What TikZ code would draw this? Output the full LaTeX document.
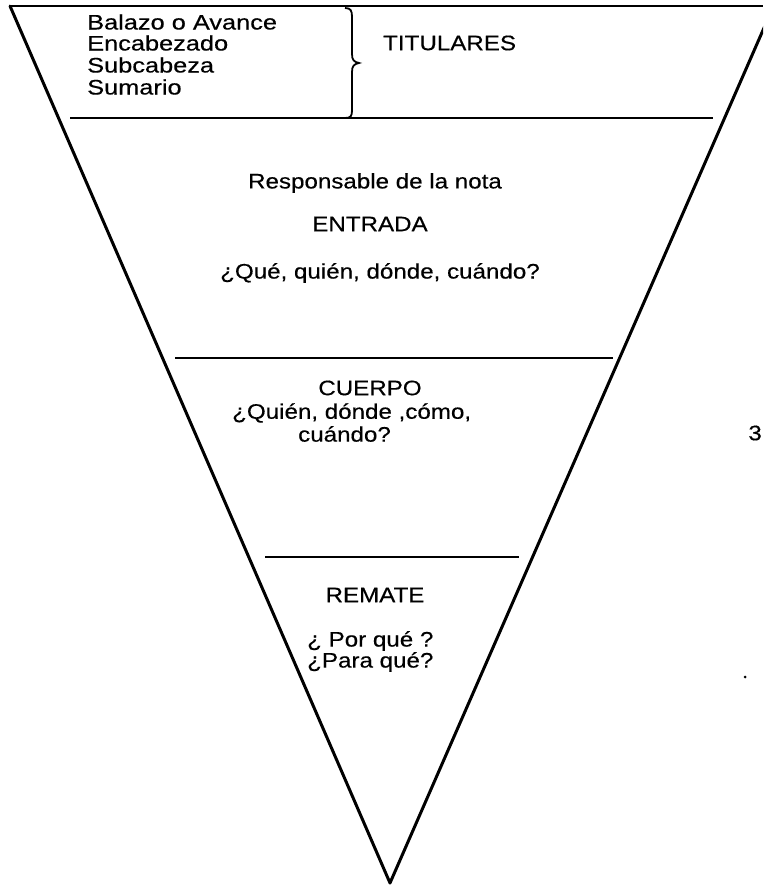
\documentclass[tikz,border=0pt]{standalone}
\usepackage{fontspec}
\setmainfont[FakeStretch=1.15,FakeBold=0.4]{Liberation Sans}
\begin{document}
\begin{tikzpicture}[x=1pt,y=-1pt,
  txt/.style={inner sep=0pt,font=\fontsize{21}{23}\selectfont},
  edge/.style={line width=3pt,line cap=round,line join=round},
  sep/.style={line width=2.2pt}]
\useasboundingbox (0,0) rectangle (763,885);
\clip (0,0) rectangle (763,885);
% triangle
\coordinate (tl) at (10,6);
\coordinate (tr) at (763,6);
\coordinate (apex) at (390,883);
\coordinate (rtop) at (774,5);
\draw[sep] (tl) -- (tr);
\draw[edge] (tl) -- (apex) -- (rtop);
% separators
\coordinate (s2a) at (70,118); \coordinate (s2b) at (713,118);
\coordinate (s3a) at (175,358); \coordinate (s3b) at (613,358);
\coordinate (s4a) at (265,557); \coordinate (s4b) at (519,557);
\draw[sep] (s2a) -- (s2b);
\draw[sep] (s3a) -- (s3b);
\draw[sep] (s4a) -- (s4b);
% brace
\draw[line width=1.8pt] (345,8) .. controls (351,8) and (352,11) .. (352,17)
  -- (352,54) .. controls (352,60) and (354,62) .. (359,63)
  .. controls (354,64) and (352,66) .. (352,72)
  -- (352,110) .. controls (352,116) and (351,118) .. (345,118);
% texts
\node[txt,anchor=west,xscale=1.05] (b1) at (87,22) {Balazo o Avance};
\node[txt,anchor=west,xscale=1.05] (b2) at (87,43) {Encabezado};
\node[txt,anchor=west,xscale=1.05] (b3) at (87,65) {Subcabeza};
\node[txt,anchor=west,xscale=1.05] (b4) at (87,87) {Sumario};
\node[txt,anchor=west] (tit) at (383,43) {TITULARES};
\node[txt] (resp) at (375,183) {Responsable de la nota};
\node[txt] (ent) at (370,224) {ENTRADA};
\node[txt] (q1) at (380,273) {¿Qué, quién, dónde, cuándo?};
\node[txt] (cue) at (370,388) {CUERPO};
\node[txt,anchor=west] (q2a) at (232,413) {¿Quién, dónde ,cómo,};
\node[txt,anchor=west] (q2b) at (298,434) {cuándo?};
\node[txt] (rem) at (375,595) {REMATE};
\node[txt,anchor=west] (q3a) at (307,641) {¿ Por qué ?};
\node[txt,anchor=west] (q3b) at (307,662) {¿Para qué?};
\node[txt,anchor=east] (pg) at (762,433) {3};
\fill (745,677) circle (1.5);
\end{tikzpicture}
\end{document}
